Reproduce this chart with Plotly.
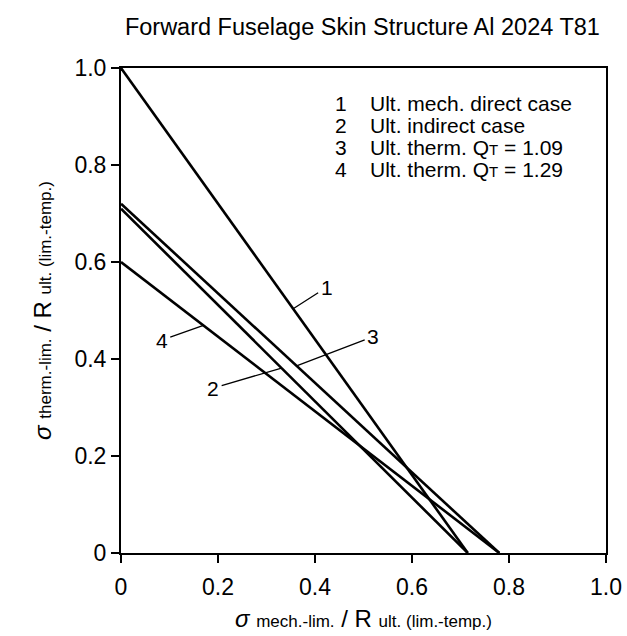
import plotly.graph_objects as go

# ---- data ----
line_ids = ["1", "2", "3", "4"]
y_intercepts = [1.0, 0.71, 0.72, 0.60]   # sigma therm at sigma mech = 0
x_intercepts = [0.715, 0.715, 0.78, 0.78]  # sigma mech at sigma therm = 0

legend_text = [
    "Ult. mech. direct case",
    "Ult. indirect case",
    "Ult. therm. Q<span style='font-size:15px'>T</span> = 1.09",
    "Ult. therm. Q<span style='font-size:15px'>T</span> = 1.29",
]

# label positions and where each pointer touches its line (x on line)
label_x = [0.424, 0.190, 0.520, 0.084]
label_y = [0.548, 0.340, 0.446, 0.439]
pointer_x = [0.355, 0.331, 0.362, 0.170]

tick_vals = [0, 0.2, 0.4, 0.6, 0.8, 1.0]
tick_text = ["0", "0.2", "0.4", "0.6", "0.8", "1.0"]

FONT = "Liberation Sans, Arial, sans-serif"

fig = go.Figure()
for i, lid in enumerate(line_ids):
    fig.add_trace(go.Scatter(
        x=[0, x_intercepts[i]], y=[y_intercepts[i], 0],
        mode="lines", line=dict(color="black", width=2.6),
        showlegend=False, hoverinfo="skip", cliponaxis=False))

for i, lid in enumerate(line_ids):
    px = pointer_x[i]
    py = y_intercepts[i] * (1 - px / x_intercepts[i])
    fig.add_annotation(x=px, y=py, ax=label_x[i], ay=label_y[i],
                       axref="x", ayref="y", xref="x", yref="y",
                       text=lid, showarrow=True, arrowhead=0, arrowwidth=1.3,
                       arrowcolor="black", font=dict(size=21, color="black", family=FONT),
                       borderpad=2)

# legend block (text in plot)
row_y = [0.927, 0.882, 0.836, 0.791]
for i, lid in enumerate(line_ids):
    fig.add_annotation(x=0.454, y=row_y[i], xref="x", yref="y", text=lid,
                       showarrow=False, xanchor="center",
                       font=dict(size=21, color="black", family=FONT))
    fig.add_annotation(x=0.51, y=row_y[i], xref="x", yref="y", text=legend_text[i],
                       showarrow=False, xanchor="left",
                       font=dict(size=21, color="black", family=FONT))

axis_common = dict(
    range=[0, 1.0], tickvals=tick_vals, ticktext=tick_text, automargin=False,
    showgrid=False, zeroline=False, showline=True, linecolor="black",
    linewidth=2, mirror=True, ticks="outside", ticklen=8, tickwidth=1.5,
    tickcolor="black", tickfont=dict(size=23, color="black", family=FONT),
)

fig.update_layout(
    width=627, height=636,
    margin=dict(l=121, r=21, t=68, b=83),
    paper_bgcolor="white", plot_bgcolor="white",
    title=dict(text="Forward Fuselage Skin Structure Al 2024 T81",
               x=0.578, xanchor="center", y=0.958, yanchor="middle",
               font=dict(size=23.5, color="black", family=FONT)),
    xaxis=dict(**axis_common, ticklabelstandoff=4,
               title=dict(text="<i>σ</i> <span style='font-size:17px'>mech.-lim.</span> / R <span style='font-size:17px'>ult. (lim.-temp.)</span>",
                          font=dict(size=24, color="black", family=FONT), standoff=12)),
    yaxis=dict(**axis_common,
               title=dict(text="<i>σ</i> <span style='font-size:17px'>therm.-lim.</span> / R <span style='font-size:17px'>ult. (lim.-temp.)</span>",
                          font=dict(size=24, color="black", family=FONT), standoff=16)),
)

fig.write_html("out.html")
